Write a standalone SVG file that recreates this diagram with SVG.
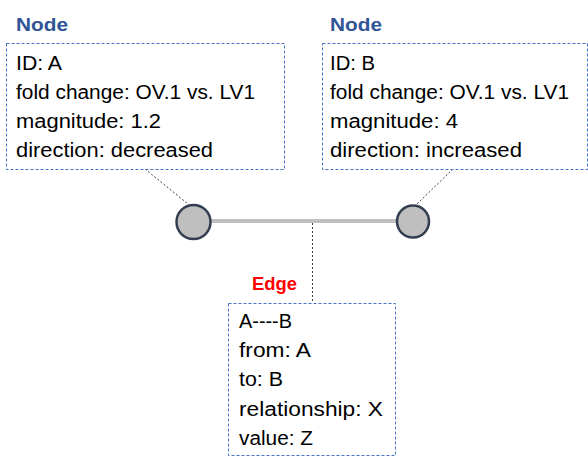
<svg xmlns="http://www.w3.org/2000/svg" width="588" height="466" viewBox="0 0 588 466">
<style>
.box{fill:#fff;stroke:#4472C4;stroke-width:1;stroke-dasharray:3 2}
.t{font-family:"Liberation Sans",Arial,sans-serif;font-size:20px;fill:#000}
.title{font-family:"Liberation Sans",Arial,sans-serif;font-size:19px;font-weight:bold}
.node{fill:#BFBFBF;stroke:#333F50;stroke-width:2.5}
.lead{stroke:#404040;stroke-width:1;stroke-dasharray:2 2;fill:none}
</style>
<rect width="588" height="466" fill="#fff"/>
<g id="connectors">
<line x1="211" y1="221" x2="397" y2="221" stroke="#BFBFBF" stroke-width="4"/>
<line class="lead" x1="145" y1="169" x2="188" y2="204"/>
<line class="lead" x1="453" y1="169" x2="417" y2="204"/>
<line class="lead" x1="312.5" y1="223" x2="312.5" y2="303"/>
</g>
<g id="nodeA">
<circle class="node" cx="193.5" cy="222" r="17"/>
</g>
<g id="nodeB">
<circle class="node" cx="413" cy="221.5" r="16"/>
</g>
<g id="infoA">
<text class="title" x="16" y="30.5" fill="#2F5597" textLength="52" lengthAdjust="spacingAndGlyphs">Node</text>
<rect class="box" x="6.5" y="43.5" width="278" height="126"/>
<text class="t" x="16" y="70" textLength="46" lengthAdjust="spacingAndGlyphs">ID: A</text>
<text class="t" x="16" y="99" textLength="239" lengthAdjust="spacingAndGlyphs">fold change: OV.1 vs. LV1</text>
<text class="t" x="16" y="128" textLength="145" lengthAdjust="spacingAndGlyphs">magnitude: 1.2</text>
<text class="t" x="16" y="157" textLength="197" lengthAdjust="spacingAndGlyphs">direction: decreased</text>
</g>
<g id="infoB">
<text class="title" x="330" y="30.5" fill="#2F5597" textLength="52" lengthAdjust="spacingAndGlyphs">Node</text>
<rect class="box" x="322.5" y="43.5" width="265" height="126"/>
<text class="t" x="330" y="70" textLength="45" lengthAdjust="spacingAndGlyphs">ID: B</text>
<text class="t" x="330" y="99" textLength="239" lengthAdjust="spacingAndGlyphs">fold change: OV.1 vs. LV1</text>
<text class="t" x="330" y="128" textLength="128" lengthAdjust="spacingAndGlyphs">magnitude: 4</text>
<text class="t" x="330" y="157" textLength="192" lengthAdjust="spacingAndGlyphs">direction: increased</text>
</g>
<g id="infoEdge">
<text class="title" x="252" y="290" fill="#FF0000" textLength="45" lengthAdjust="spacingAndGlyphs">Edge</text>
<rect class="box" x="228.5" y="303.5" width="167" height="152"/>
<text class="t" x="239" y="328" textLength="53" lengthAdjust="spacingAndGlyphs">A----B</text>
<text class="t" x="239" y="357" textLength="72" lengthAdjust="spacingAndGlyphs">from: A</text>
<text class="t" x="239" y="386" textLength="44" lengthAdjust="spacingAndGlyphs">to: B</text>
<text class="t" x="239" y="416" textLength="144" lengthAdjust="spacingAndGlyphs">relationship: X</text>
<text class="t" x="239" y="445" textLength="74" lengthAdjust="spacingAndGlyphs">value: Z</text>
</g>
</svg>
